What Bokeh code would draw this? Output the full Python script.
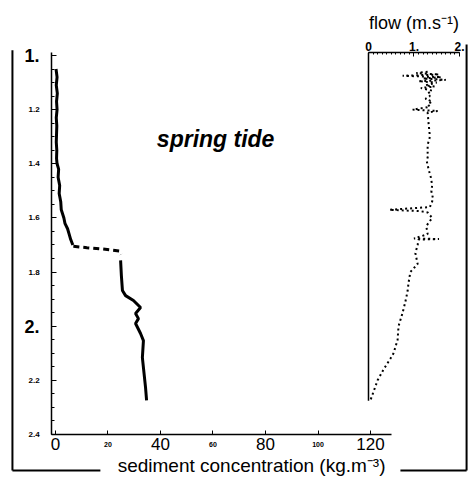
from bokeh.plotting import figure
from bokeh.models import Range1d, LinearAxis, FixedTicker
from bokeh.embed import file_html
from bokeh.resources import INLINE
from bokeh.core.properties import value

# ---------------- data ----------------
depth_ticks = [1.0, 1.2, 1.4, 1.6, 1.8, 2.0, 2.2, 2.4]
depth_tick_labels = ["1.", "1.2", "1.4", "1.6", "1.8", "2.", "2.2", "2.4"]
depth_big = ["1.", "2."]
conc_ticks = [0, 20, 40, 60, 80, 100, 120]
conc_tick_labels = ["0", "20", "40", "60", "80", "100", "120"]
conc_big = ["0", "40", "80", "120"]
flow_ticks = [0, 1, 2]
flow_tick_labels = ["0", "1.", "2."]

# sediment concentration profile (kg/m3) vs depth
conc_upper = [0.2, 0.6, 0.3, 0.7, 0.4, 0.6, 0.3, 0.5, 0.4, 0.3, 0.5, 0.4, 0.6,
              1.2, 1.0, 1.6, 1.4, 2.0, 2.2, 3.2, 3.6, 4.6, 5.2, 5.8, 6.6]
depth_upper = [1.05, 1.08, 1.11, 1.14, 1.17, 1.20, 1.23, 1.26, 1.29, 1.32, 1.35, 1.38, 1.40,
               1.42, 1.45, 1.48, 1.51, 1.54, 1.57, 1.60, 1.62, 1.64, 1.66, 1.68, 1.70]
conc_gap = [6.8, 12.0, 18.0, 24.3, 25.0]
depth_gap = [1.705, 1.710, 1.715, 1.722, 1.735]
conc_lower = [24.8, 25.1, 25.5, 26.7, 29.7, 32.4, 30.5, 31.6, 30.5, 32.4, 33.5, 33.1, 33.5, 34.3, 34.7]
depth_lower = [1.757, 1.813, 1.868, 1.887, 1.905, 1.931, 1.953, 1.972, 1.990, 2.027, 2.053,
               2.116, 2.153, 2.226, 2.274]

# flow speed (m/s) vs depth
flow = [1.30, 1.05, 1.55, 0.75, 1.60, 1.20, 1.70, 1.10, 1.50, 1.25, 1.45, 1.15, 1.40, 1.30,
        1.35, 1.25, 1.40, 1.30, 1.35, 0.97, 1.52, 1.30, 1.32, 1.35, 1.30, 1.30, 1.31, 1.28,
        1.32, 1.37, 1.40, 1.38, 1.42, 1.35, 0.46, 1.14, 1.30, 1.40, 1.27, 1.30, 1.00, 1.55,
        1.10, 1.08, 1.03, 1.08, 0.92, 0.88, 0.86, 0.81, 0.75, 0.66, 0.64, 0.55, 0.48, 0.33,
        0.20, 0.04]
flow_depth = [1.060, 1.065, 1.070, 1.075, 1.080, 1.085, 1.090, 1.095, 1.100, 1.110, 1.115,
              1.120, 1.130, 1.140, 1.150, 1.160, 1.170, 1.180, 1.190, 1.200, 1.205, 1.210,
              1.250, 1.300, 1.330, 1.360, 1.370, 1.390, 1.420, 1.450, 1.480, 1.500, 1.530,
              1.560, 1.570, 1.575, 1.580, 1.600, 1.630, 1.660, 1.676, 1.678, 1.680, 1.700,
              1.730, 1.770, 1.800, 1.840, 1.870, 1.910, 1.950, 2.000, 2.050, 2.100, 2.120,
              2.160, 2.200, 2.275]

FONT = "Liberation Sans"

p = figure(width=470, height=477, output_backend="svg", toolbar_location=None,
           x_range=Range1d(-1.52, 156.95), y_range=Range1d(2.40, 0.989),
           min_border_left=51, min_border_right=3, min_border_top=52, min_border_bottom=43)
p.extra_x_ranges = {"flow": Range1d(-6.967, 2.176)}
p.grid.visible = False
p.outline_line_color = None
p.background_fill_color = "white"
p.border_fill_color = "white"

# left depth axis
ya = p.yaxis[0]
ya.ticker = FixedTicker(ticks=depth_ticks,
                        minor_ticks=[round(1.0 + 0.05 * i, 2) for i in range(29)])
ya.major_label_overrides = {t: (l if l in depth_big else "") for t, l in zip(depth_ticks, depth_tick_labels)}
ya.bounds = (0.989, 2.4)
ya.axis_line_width = 1.5
ya.axis_line_color = "black"
ya.major_tick_in = 5
ya.major_tick_out = 0
ya.minor_tick_in = 3
ya.minor_tick_out = 0
ya.major_tick_line_color = "black"
ya.minor_tick_line_color = "black"
ya.major_label_text_font = FONT
ya.major_label_text_font_style = "bold"
ya.major_label_text_font_size = "18px"
ya.major_label_text_color = "black"
ya.major_label_standoff = 12

# bottom concentration axis
xa = p.xaxis[0]
xa.ticker = FixedTicker(ticks=conc_ticks)
xa.major_label_overrides = {t: (l if l in conc_big else "") for t, l in zip(conc_ticks, conc_tick_labels)}
xa.bounds = (-1.52, 128)
xa.axis_line_width = 1.5
xa.axis_line_color = "black"
xa.major_tick_in = 4
xa.major_tick_out = 0
xa.minor_tick_in = 0
xa.minor_tick_out = 0
xa.major_tick_line_color = "black"
xa.major_label_text_font = FONT
xa.major_label_text_font_size = "17px"
xa.major_label_text_color = "black"
xa.major_label_standoff = 3

# top flow axis
fa = LinearAxis(x_range_name="flow", ticker=FixedTicker(ticks=flow_ticks,
                minor_ticks=[round(0.1 * i, 1) for i in range(21)]))
fa.major_label_overrides = {t: l for t, l in zip(flow_ticks, flow_tick_labels)}
fa.bounds = (0, 2)
fa.axis_line_width = 1.5
fa.axis_line_color = "black"
fa.major_tick_in = 4
fa.major_tick_out = 0
fa.minor_tick_in = 2
fa.minor_tick_out = 0
fa.major_tick_line_color = "black"
fa.minor_tick_line_color = "black"
fa.major_label_text_font = FONT
fa.major_label_text_font_size = "12px"
fa.major_label_text_font_style = "bold"
fa.major_label_text_color = "black"
fa.major_label_standoff = 2
p.add_layout(fa, "above")

# small tick labels
small_d = [(t, l) for t, l in zip(depth_ticks, depth_tick_labels) if l not in depth_big]
p.text(x=[-6.0] * len(small_d), y=[t for t, _ in small_d], text=[l for _, l in small_d],
       text_font=value(FONT), text_font_size="8px", text_font_style="bold",
       text_align="right", text_baseline="middle", text_color="black", level="overlay")
small_c = [(t, l) for t, l in zip(conc_ticks, conc_tick_labels) if l not in conc_big]
p.text(x=[t for t, _ in small_c], y=[2.4] * len(small_c), text=[l for _, l in small_c],
       y_offset=10, text_font=value(FONT), text_font_size="7px", text_font_style="bold",
       text_align="center", text_baseline="middle", text_color="black", level="overlay")

# sediment concentration profile
p.line(conc_upper, depth_upper, line_color="black", line_width=3)
p.line(conc_gap, depth_gap, line_color="black", line_width=3, line_dash="6 4")
p.line(conc_lower, depth_lower, line_color="black", line_width=3)

# flow inset
p.line([0, 0], [0.989, flow_depth[-1]], x_range_name="flow", line_color="black", line_width=1.5)
p.line(flow, flow_depth, x_range_name="flow", line_color="black", line_width=2, line_dash="2 3")
p.text(x=[1.0], y=[0.989], text=["flow (m.s\u207b\u00b9)"], x_range_name="flow", y_offset=-30,
       text_font=value(FONT), text_font_size="18px", text_align="center", text_baseline="middle",
       text_color="black", level="overlay")

p.text(x=[61], y=[1.307], text=["spring tide"], text_font=value(FONT), text_font_size="23px",
       text_font_style="bold italic", text_align="center", text_baseline="middle",
       text_color="black")

# outer frame
p.line([-16.4, -16.4], [0.981, 2.533], line_color="black", line_width=2, level="overlay")
p.line([-16.4, 17.1], [2.533, 2.533], line_color="black", line_width=2, level="overlay")
p.line([131.4, 156.6], [2.533, 2.533], line_color="black", line_width=2, level="overlay")
p.line([156.6, 156.6], [0.959, 2.533], line_color="black", line_width=2, level="overlay")
p.text(x=[74.7], y=[2.515], text=["sediment concentration (kg.m\u207b\u00b3)"], text_font=value(FONT),
       text_font_size="19px", text_align="center", text_baseline="middle",
       text_color="black", level="overlay")

open("out.html", "w").write(file_html(p, INLINE))
